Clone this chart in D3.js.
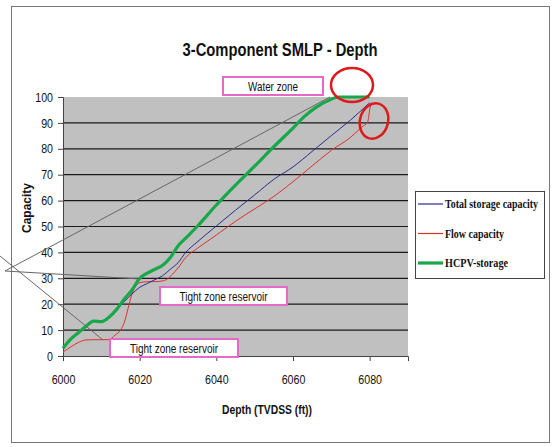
<!DOCTYPE html>
<html><head><meta charset="utf-8">
<script src="https://cdn.jsdelivr.net/npm/d3@7"></script>
<style>body{margin:0;background:#fff}svg{display:block}</style>
</head><body>
<svg id="c" width="553" height="447"></svg>
<script>
const xTicks = [6000, 6020, 6040, 6060, 6080];
const yTicks = [0,10,20,30,40,50,60,70,80,90,100];
const hcpvDepth = [6000,6002,6004,6006,6008,6010,6012,6014,6016,6018,6020,6022,6024,6026,6028,6030,6032,6035,6040,6045,6050,6055,6060,6063,6066,6069,6072,6080];
const hcpvValue = [3,6.5,9,11.5,13.5,13.3,15,18,22,25.5,30,32,33.5,35,38,42.5,45.5,50,58.3,66,73.3,80.8,88,92.5,96,98.5,100,100];
const totalDepth = [6000,6002,6004,6006,6008,6010,6012,6014,6016,6018,6020,6022,6024,6026,6028,6030,6032,6035,6040,6045,6050,6055,6060,6065,6070,6075,6080];
const totalValue = [3,6.5,9,11.5,13.5,13.3,15,18,21,24,26.5,28,29.5,31,33.5,36,40,44,50.2,56.3,62.2,68.2,73,79,85.1,91.1,97.8];
const flowDepth = [6000,6002,6004,6006,6008,6010,6012,6013.5,6015,6016,6017,6018,6019,6020,6022,6024,6026,6027,6028.5,6030,6032,6035,6040,6045,6050,6055,6060,6065,6070,6075,6078,6079.5,6080,6080.3];
const flowValue = [1.5,3.5,5.2,6.2,6.3,6.3,6.3,8,10,13,18.5,24,27,28.3,28.7,28.7,29,29.5,31.5,34,38,41.5,46.7,52,56.8,61.6,67.3,73.4,79.4,84.4,88.5,90.5,95,97.5];
const legendLabels = ["Total storage capacity","Flow capacity","HCPV-storage"];

const svg = d3.select("#c");
const x = d3.scaleLinear().domain([6000,6090]).range([63,408]);
const y = d3.scaleLinear().domain([0,100]).range([356,97]);
const sans = "Arial,'Liberation Sans',sans-serif";

function condense(sel, f){
  sel.each(function(){
    const w = this.getComputedTextLength();
    d3.select(this).attr("textLength", w*f).attr("lengthAdjust","spacingAndGlyphs");
  });
}

// outer frame
svg.append("rect").attr("x",11.5).attr("y",6.5).attr("width",538).attr("height",436)
  .attr("fill","none").attr("stroke","#777").attr("stroke-width",1);

// plot background
svg.append("rect").attr("x",x(6000)).attr("y",y(100)).attr("width",x(6090)-x(6000)).attr("height",y(0)-y(100))
  .attr("fill","#c0c0c0");

// gridlines
svg.append("g").selectAll("line").data(yTicks.filter(d=>d>0&&d<100)).join("line")
  .attr("x1",x(6000)).attr("x2",x(6090)).attr("y1",d=>y(d)).attr("y2",d=>y(d))
  .attr("stroke","#1a1a1a").attr("stroke-width",1.2);

// axes
const yAxis = svg.append("g").attr("transform",`translate(${x(6000)},0)`)
  .call(d3.axisLeft(y).tickValues(yTicks).tickSize(5).tickPadding(5));
const xAxis = svg.append("g").attr("transform",`translate(0,${y(0)})`)
  .call(d3.axisBottom(x).tickValues(xTicks).tickSize(5).tickPadding(14).tickFormat(d3.format("d")));
[yAxis,xAxis].forEach(a=>{
  a.select(".domain").attr("stroke","#444");
  a.selectAll(".tick line").attr("stroke","#444");
  a.selectAll("text").attr("font-family",sans).attr("font-size",13).attr("fill","#111");
  condense(a.selectAll("text"), 0.82);
});

// series
const line = d3.line().curve(d3.curveMonotoneX);
function pts(ds,vs){return ds.map((d,i)=>[x(d),y(vs[i])]);}
svg.append("path").attr("d",line(pts(flowDepth,flowValue))).attr("fill","none").attr("stroke","#e0302a").attr("stroke-width",1);
svg.append("path").attr("d",line(pts(totalDepth,totalValue))).attr("fill","none").attr("stroke","#2b2b8f").attr("stroke-width",1);
svg.append("path").attr("d",line(pts(hcpvDepth,hcpvValue))).attr("fill","none").attr("stroke","#18a84a").attr("stroke-width",3.2);

// callout lines
const callouts = [[[0,256],[103,340]],[[5,271],[330,97]],[[5,271],[140,279]]];
svg.append("g").selectAll("line").data(callouts).join("line")
  .attr("x1",d=>d[0][0]).attr("y1",d=>d[0][1]).attr("x2",d=>d[1][0]).attr("y2",d=>d[1][1])
  .attr("stroke","#666").attr("stroke-width",1);

// annotation boxes
const boxes = [
  {t:"Water zone", x:223, y:77, w:100, h:18, tw:50},
  {t:"Tight zone reservoir", x:160, y:287, w:127, h:18, tw:88},
  {t:"Tight zone reservoir", x:110, y:339, w:128, h:18, tw:88}
];
const bg = svg.append("g").selectAll("g").data(boxes).join("g");
bg.append("rect").attr("x",d=>d.x).attr("y",d=>d.y).attr("width",d=>d.w).attr("height",d=>d.h)
  .attr("fill","#fff").attr("stroke","#e36ac8").attr("stroke-width",2);
bg.append("text").attr("x",d=>d.x+d.w/2).attr("y",d=>d.y+d.h/2+4.5).attr("text-anchor","middle")
  .attr("font-family",sans).attr("font-size",13).attr("fill","#111")
  .attr("textLength",d=>d.tw).attr("lengthAdjust","spacingAndGlyphs").text(d=>d.t);

// red ellipses
svg.append("ellipse").attr("cx",352).attr("cy",85).attr("rx",21).attr("ry",17)
  .attr("fill","none").attr("stroke","#dd1a1a").attr("stroke-width",2.5);
svg.append("ellipse").attr("cx",374).attr("cy",121).attr("rx",14).attr("ry",18)
  .attr("transform","rotate(15,374,121)")
  .attr("fill","none").attr("stroke","#dd1a1a").attr("stroke-width",2.5);

// title
svg.append("text").attr("x",280).attr("y",56).attr("text-anchor","middle")
  .attr("font-family",sans).attr("font-weight","bold").attr("font-size",19).attr("fill","#111")
  .attr("textLength",195).attr("lengthAdjust","spacingAndGlyphs")
  .text("3-Component SMLP - Depth");

// axis titles
svg.append("text").attr("transform","translate(31,208) rotate(-90)").attr("text-anchor","middle")
  .attr("font-family",sans).attr("font-weight","bold").attr("font-size",12).attr("fill","#111")
  .attr("textLength",50).attr("lengthAdjust","spacingAndGlyphs")
  .text("Capacity");
svg.append("text").attr("x",267).attr("y",414).attr("text-anchor","middle")
  .attr("font-family",sans).attr("font-weight","bold").attr("font-size",12).attr("fill","#111")
  .attr("textLength",90).attr("lengthAdjust","spacingAndGlyphs")
  .text("Depth (TVDSS (ft))");

// legend
const lg = svg.append("g");
lg.append("rect").attr("x",415.5).attr("y",191.5).attr("width",129).attr("height",87)
  .attr("fill","#fff").attr("stroke","#444").attr("stroke-width",1);
const legColors = ["#2b2b8f","#e0302a","#18a84a"];
const legWidths = [1.2,1.2,3.2];
const legTextW = [93,59,63];
const ly = d3.scalePoint().domain(legendLabels).range([204,263]);
lg.selectAll("line.lg").data(legendLabels).join("line").attr("class","lg")
  .attr("x1",418).attr("x2",443).attr("y1",d=>ly(d)).attr("y2",d=>ly(d))
  .attr("stroke",(d,i)=>legColors[i]).attr("stroke-width",(d,i)=>legWidths[i]);
lg.selectAll("text").data(legendLabels).join("text")
  .attr("x",445).attr("y",d=>ly(d)+4).attr("font-family","'Liberation Serif','Times New Roman',serif")
  .attr("font-weight","bold").attr("font-size",11.5).attr("fill","#111")
  .attr("textLength",(d,i)=>legTextW[i]).attr("lengthAdjust","spacingAndGlyphs").text(d=>d);
</script>
</body></html>
